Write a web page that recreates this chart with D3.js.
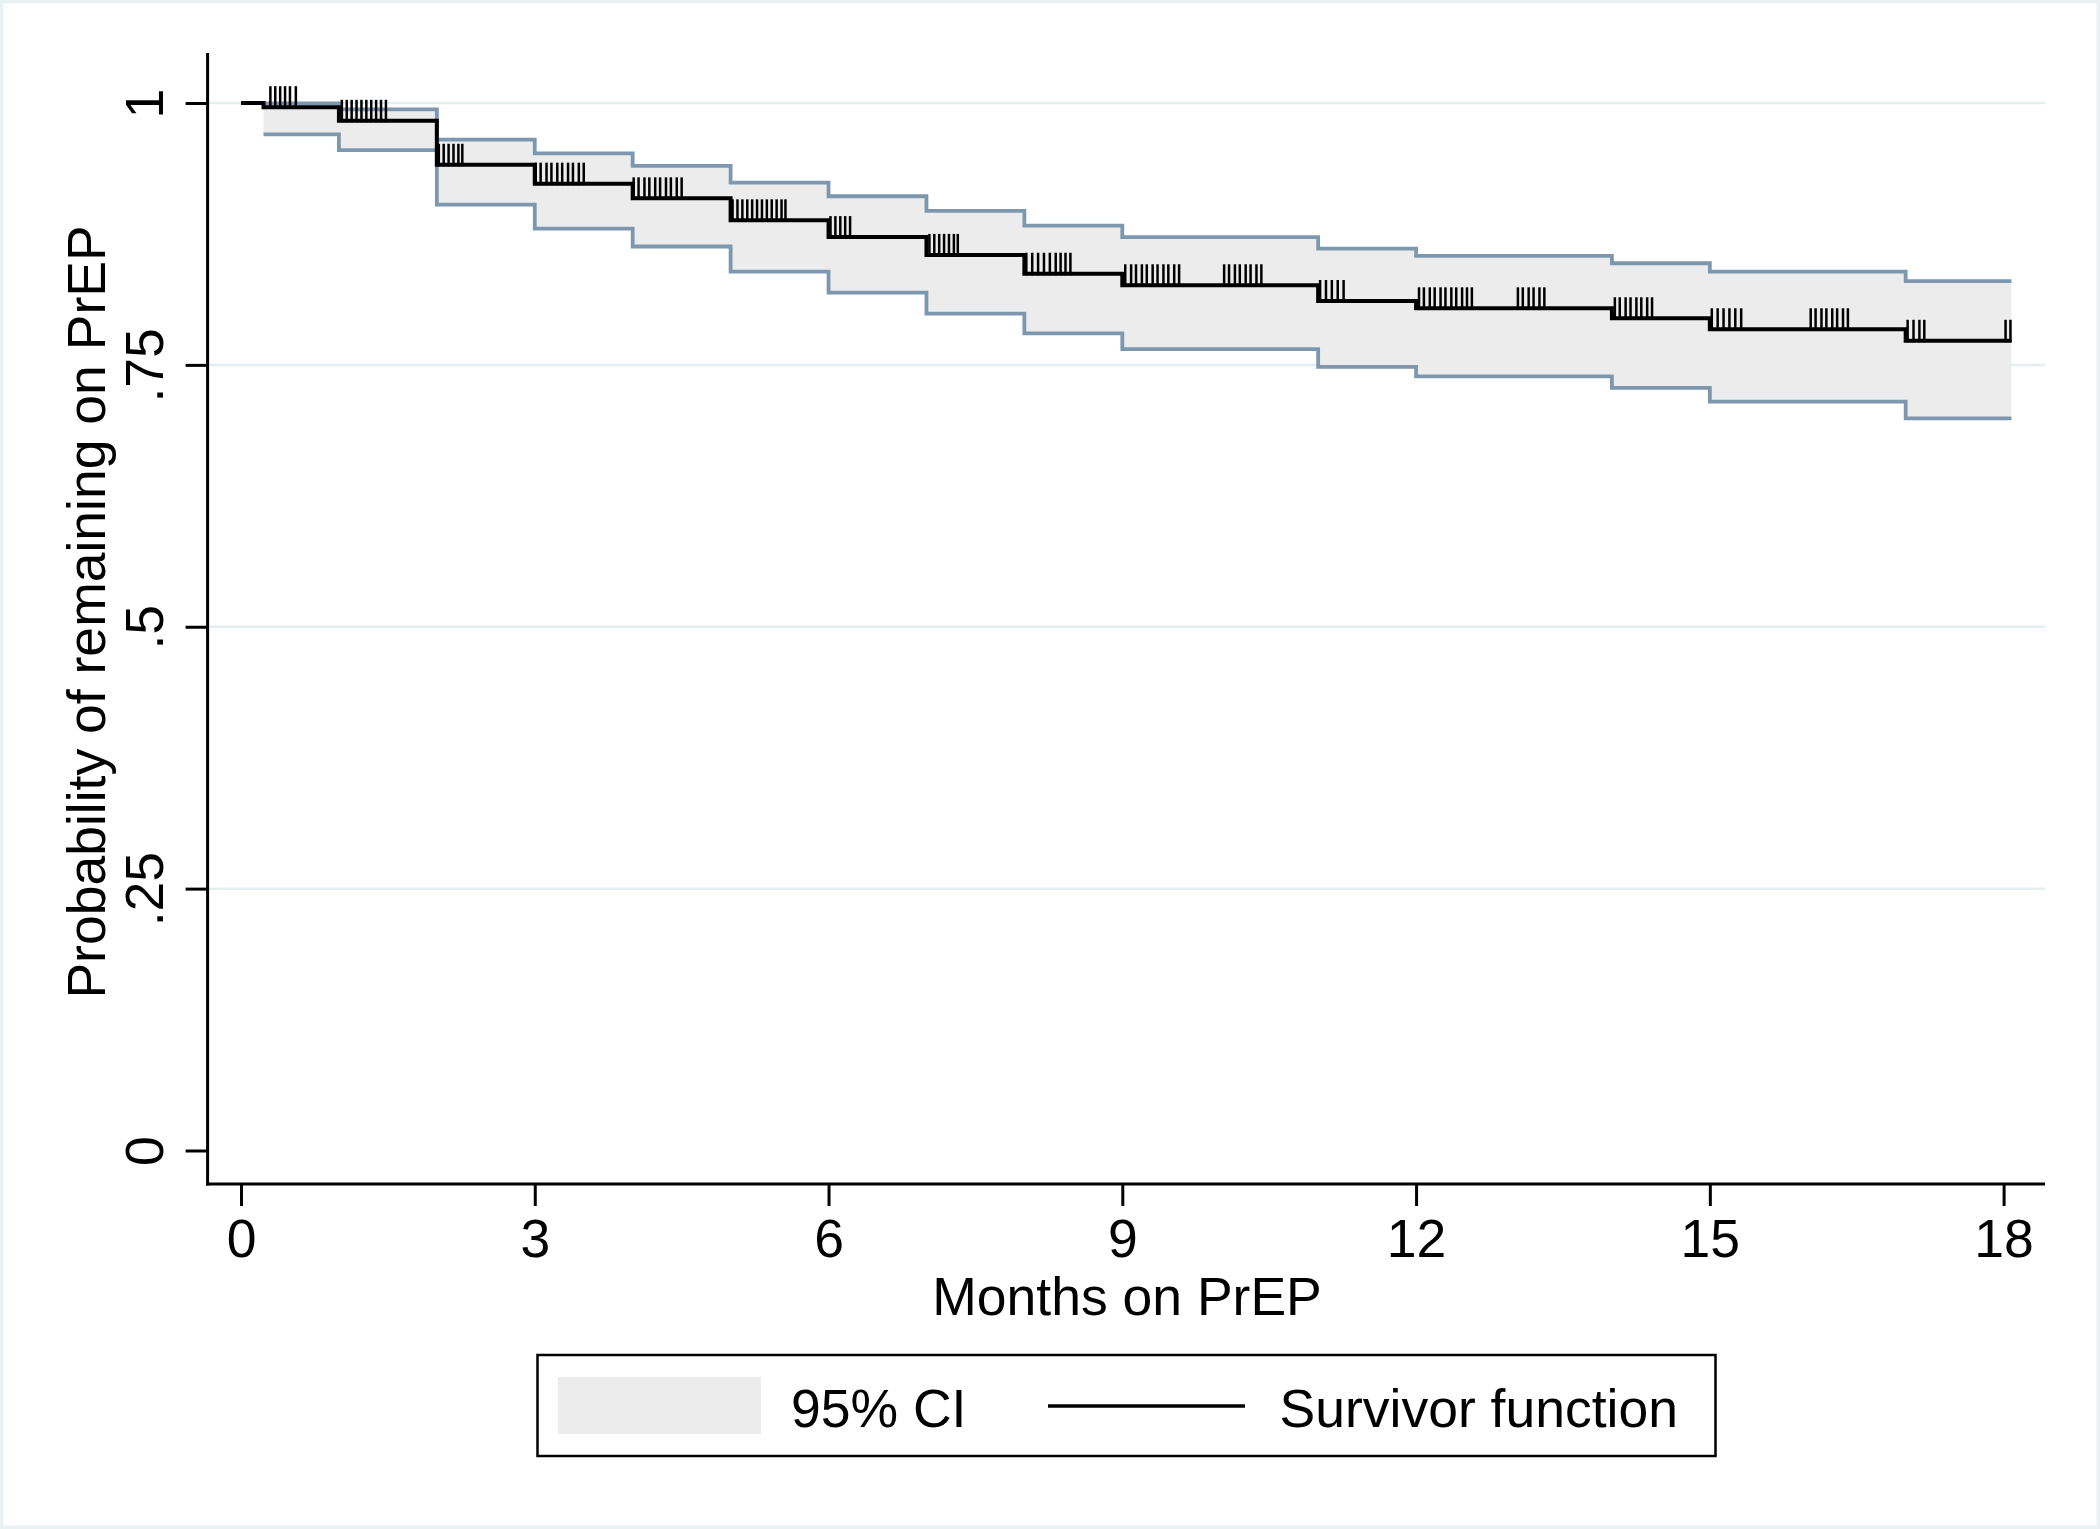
<!DOCTYPE html>
<html>
<head>
<meta charset="utf-8">
<script src="https://cdn.jsdelivr.net/npm/d3@7"></script>
<style>
  html, body { margin: 0; padding: 0; background: #ffffff; }
  svg { display: block; }
  text { font-family: "Liberation Sans", Arial, Helvetica, sans-serif; fill: #000; }
</style>
</head>
<body>
<script>
// ---------------- data ----------------
const xTicks = [0, 3, 6, 9, 12, 15, 18];
const yTicks = [0, 0.25, 0.5, 0.75, 1];
const yTickLabels = ["0", ".25", ".5", ".75", "1"];
const gridValues = [0.25, 0.5, 0.75, 1];

// Kaplan-Meier survivor function (step changes)
const kmTimes    = [0, 0.23, 1, 2, 3, 4, 5, 6, 7, 8, 9, 11, 12, 14, 15, 17];
const kmSurvival = [1, 0.996, 0.983, 0.941, 0.923, 0.909, 0.888, 0.872, 0.855, 0.837, 0.826, 0.811, 0.804, 0.7945, 0.784, 0.773];
const endTime = 18.08;

// 95% confidence interval (starts at first event)
const ciTimes = [0.23, 1, 2, 3, 4, 5, 6, 7, 8, 9, 11, 12, 14, 15, 17];
const ciUpper = [0.9995, 0.994, 0.965, 0.952, 0.940, 0.924, 0.911, 0.897, 0.883, 0.872, 0.861, 0.854, 0.847, 0.839, 0.830];
const ciLower = [0.970, 0.955, 0.903, 0.880, 0.863, 0.839, 0.819, 0.799, 0.780, 0.765, 0.748, 0.739, 0.728, 0.715, 0.699];

// censored observations (months)
const censorTimes = [
  0.30, 0.35, 0.40, 0.45, 0.50, 0.56,
  1.03, 1.08, 1.13, 1.18, 1.23, 1.28, 1.33, 1.38, 1.43, 1.48,
  2.02, 2.07, 2.12, 2.17, 2.22, 2.26,
  3.01, 3.06, 3.12, 3.17, 3.23, 3.28, 3.34, 3.39, 3.45, 3.50,
  4.01, 4.06, 4.12, 4.17, 4.23, 4.28, 4.34, 4.39, 4.45, 4.50,
  5.02, 5.07, 5.12, 5.17, 5.22, 5.27, 5.32, 5.37, 5.42, 5.47, 5.52, 5.56,
  6.02, 6.07, 6.12, 6.17, 6.22,
  7.03, 7.08, 7.13, 7.18, 7.23, 7.28, 7.32,
  8.02, 8.08, 8.14, 8.20, 8.26, 8.32, 8.37, 8.42, 8.47,
  9.03, 9.09, 9.14, 9.20, 9.25, 9.31, 9.36, 9.42, 9.47, 9.53, 9.58,
  10.04, 10.09, 10.15, 10.20, 10.26, 10.31, 10.37, 10.42,
  11.02, 11.08, 11.14, 11.20, 11.26,
  12.03, 12.08, 12.14, 12.19, 12.25, 12.30, 12.36, 12.41, 12.47, 12.52, 12.57,
  13.04, 13.09, 13.15, 13.20, 13.26, 13.31,
  14.03, 14.08, 14.14, 14.19, 14.25, 14.30, 14.36, 14.41,
  15.02, 15.08, 15.14, 15.20, 15.26, 15.32,
  16.03, 16.08, 16.14, 16.19, 16.25, 16.30, 16.36, 16.41,
  17.02, 17.08, 17.14, 17.19,
  18.02, 18.07
];

const xTitle = "Months on PrEP";
const yTitle = "Probability of remaining on PrEP";
const legendLabels = ["95% CI", "Survivor function"];

// ---------------- layout ----------------
const W = 2100, H = 1529;
const axisX = 207.6, axisY = 1184;
const plotRight = 2045, plotTop = 53;
const fontSize = 53.5;

const svg = d3.select("body").append("svg")
  .attr("width", W).attr("height", H)
  .attr("viewBox", `0 0 ${W} ${H}`);

svg.append("rect").attr("x", 0).attr("y", 0).attr("width", W).attr("height", H)
  .attr("fill", "#ffffff");
svg.append("rect").attr("x", 1.5).attr("y", 1.5).attr("width", W - 3).attr("height", H - 3)
  .attr("fill", "none").attr("stroke", "#eaf1f3").attr("stroke-width", 4);

const x = d3.scaleLinear().domain([0, 18]).range([241, 2003.6]);
const y = d3.scaleLinear().domain([0, 1]).range([1150.5, 103]);

// gridlines
svg.append("g").selectAll("line").data(gridValues).join("line")
  .attr("x1", axisX).attr("x2", plotRight)
  .attr("y1", d => y(d)).attr("y2", d => y(d))
  .attr("stroke", "#e3eef0").attr("stroke-width", 2.5);

// CI band
const ciData = ciTimes.map((t, i) => ({ t, lo: ciLower[i], hi: ciUpper[i] }));
ciData.push({ t: endTime, lo: ciLower[ciLower.length - 1], hi: ciUpper[ciUpper.length - 1] });

svg.append("path").datum(ciData)
  .attr("d", d3.area().curve(d3.curveStepAfter)
    .x(d => x(d.t)).y0(d => y(d.lo)).y1(d => y(d.hi)))
  .attr("fill", "#ececec").attr("stroke", "none");

const ciLineColor = "#7d97ae";
svg.append("path").datum(ciData)
  .attr("d", d3.line().curve(d3.curveStepAfter).x(d => x(d.t)).y(d => y(d.hi)))
  .attr("fill", "none").attr("stroke", ciLineColor).attr("stroke-width", 3.8);
svg.append("path").datum(ciData)
  .attr("d", d3.line().curve(d3.curveStepAfter).x(d => x(d.t)).y(d => y(d.lo)))
  .attr("fill", "none").attr("stroke", ciLineColor).attr("stroke-width", 3.8);

// survivor function
const kmData = kmTimes.map((t, i) => ({ t, s: kmSurvival[i] }));
kmData.push({ t: endTime, s: kmSurvival[kmSurvival.length - 1] });
svg.append("path").datum(kmData)
  .attr("d", d3.line().curve(d3.curveStepAfter).x(d => x(d.t)).y(d => y(d.s)))
  .attr("fill", "none").attr("stroke", "#000").attr("stroke-width", 4)
  .attr("stroke-linejoin", "miter");

// censor ticks
function survAt(t) {
  let s = kmSurvival[0];
  for (let i = 0; i < kmTimes.length; i++) if (kmTimes[i] <= t) s = kmSurvival[i];
  return s;
}
svg.append("g").selectAll("line").data(censorTimes).join("line")
  .attr("x1", d => x(d)).attr("x2", d => x(d))
  .attr("y1", d => y(survAt(d)) + 1.5).attr("y2", d => y(survAt(d)) - 21)
  .attr("stroke", "#000").attr("stroke-width", 2.5);

// y axis
const yAxis = svg.append("g").attr("transform", `translate(${axisX},0)`)
  .call(d3.axisLeft(y).tickValues(yTicks).tickSize(22).tickSizeOuter(0)
    .tickFormat((d, i) => yTickLabels[i]));
yAxis.select(".domain").remove();
yAxis.selectAll(".tick line").attr("stroke", "#000").attr("stroke-width", 3);
yAxis.selectAll(".tick text")
  .attr("x", null).attr("dy", null).attr("y", 0)
  .attr("text-anchor", "middle")
  .attr("transform", "translate(-44.6,0) rotate(-90)")
  .style("font-size", fontSize + "px")
  .style("font-family", "'Liberation Sans', Arial, sans-serif")
  .attr("fill", "#000");

svg.append("line").attr("x1", axisX).attr("x2", axisX)
  .attr("y1", plotTop).attr("y2", axisY + 1.5)
  .attr("stroke", "#000").attr("stroke-width", 3);

// x axis
const xAxis = svg.append("g").attr("transform", `translate(0,${axisY})`)
  .call(d3.axisBottom(x).tickValues(xTicks).tickSize(22).tickSizeOuter(0)
    .tickFormat(d3.format("d")));
xAxis.select(".domain").remove();
xAxis.selectAll(".tick line").attr("stroke", "#000").attr("stroke-width", 3);
xAxis.selectAll(".tick text")
  .attr("y", 73).attr("dy", null)
  .style("font-size", fontSize + "px")
  .style("font-family", "'Liberation Sans', Arial, sans-serif")
  .attr("fill", "#000");

svg.append("line").attr("x1", axisX - 1.5).attr("x2", plotRight)
  .attr("y1", axisY).attr("y2", axisY)
  .attr("stroke", "#000").attr("stroke-width", 3);

// axis titles
svg.append("text").attr("x", 1127).attr("y", 1315)
  .attr("text-anchor", "middle").style("font-size", fontSize + "px")
  .text(xTitle);
svg.append("text")
  .attr("transform", "translate(105,612) rotate(-90)")
  .attr("text-anchor", "middle").style("font-size", fontSize + "px")
  .text(yTitle);

// legend
const lg = svg.append("g");
lg.append("rect").attr("x", 537.5).attr("y", 1355).attr("width", 1178).attr("height", 101)
  .attr("fill", "#fff").attr("stroke", "#000").attr("stroke-width", 2.5);
lg.append("rect").attr("x", 558).attr("y", 1377).attr("width", 203).attr("height", 57)
  .attr("fill", "#ececec");
lg.append("text").attr("x", 791).attr("y", 1427).style("font-size", fontSize + "px")
  .text(legendLabels[0]);
lg.append("line").attr("x1", 1048).attr("x2", 1245).attr("y1", 1406).attr("y2", 1406)
  .attr("stroke", "#000").attr("stroke-width", 3.5);
lg.append("text").attr("x", 1279.5).attr("y", 1427).style("font-size", fontSize + "px")
  .text(legendLabels[1]);
</script>
</body>
</html>
